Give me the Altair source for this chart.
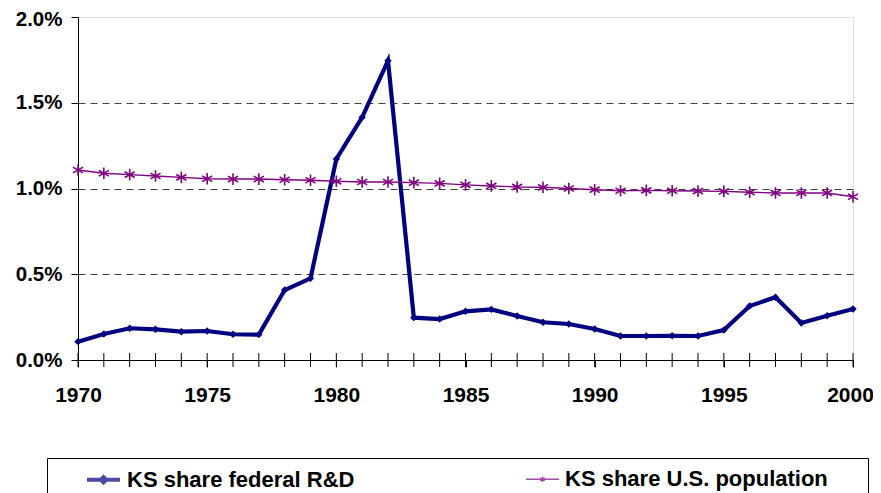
import altair as alt
import pandas as pd

years = list(range(1970, 2001))
rd_share = [0.107, 0.152, 0.185, 0.179, 0.165, 0.169, 0.150, 0.148, 0.408, 0.476,
            1.172, 1.415, 1.745, 0.247, 0.239, 0.284, 0.295, 0.257, 0.220, 0.210,
            0.181, 0.140, 0.140, 0.141, 0.140, 0.175, 0.315, 0.366, 0.216, 0.258, 0.297]
pop_share = [1.108, 1.089, 1.081, 1.073, 1.065, 1.057, 1.055, 1.055, 1.051, 1.048,
             1.042, 1.038, 1.038, 1.034, 1.030, 1.021, 1.015, 1.009, 1.007, 1.000,
             0.993, 0.987, 0.989, 0.987, 0.985, 0.983, 0.978, 0.974, 0.974, 0.974, 0.952]
series_names = ["KS share federal R&D", "KS share U.S. population"]
series_colors = ["#000080", "#800080"]
y_ticks = [0, 0.5, 1.0, 1.5, 2.0]
x_label_years = [1970, 1975, 1980, 1985, 1990, 1995, 2000]

df = pd.concat([
    pd.DataFrame({"year": years, "value": rd_share, "series": series_names[0]}),
    pd.DataFrame({"year": years, "value": pop_share, "series": series_names[1]}),
])
ticks_df = pd.DataFrame({"year": years})

FONT = "Liberation Sans"
W, H = 775, 343

asterisk = "M0,-1L0,1M-0.87,-0.5L0.87,0.5M-0.87,0.5L0.87,-0.5"
leg_rd = "M-1,0L1,0M0,-0.16L0.16,0L0,0.16L-0.16,0Z"
leg_pop = "M-1,0L1,0M0,-0.16L0,0.16M-0.14,-0.08L0.14,0.08M-0.14,0.08L0.14,-0.08"

legend_kw = dict(
    title="\u00a0", titleOrient="right", titlePadding=37, titleFontSize=10,
    orient="none", legendX=-31, legendY=441, direction="horizontal",
    strokeColor="black", fillColor="white", padding=3, symbolOffset=35,
    columnPadding=135, labelFont=FONT, labelFontWeight="bold", labelFontSize=22,
    labelColor="black", labelOffset=5, symbolSize=1089, labelLimit=400,
)

x_enc = alt.X("year:Q", scale=alt.Scale(domain=[1970, 2000], nice=False, zero=False),
              axis=alt.Axis(title=None, values=x_label_years, format="d",
                            labelOverlap=False,
                            labelOffset={"condition": {"test": "datum.value >= 2000", "value": -3}, "value": 0},
                            tickSize=7, tickColor="black", domainColor="black",
                            labelFont=FONT, labelFontWeight="bold", labelFontSize=21,
                            labelColor="black", labelPadding=17, grid=False, labelFlush=False))
y_enc = alt.Y("value:Q", scale=alt.Scale(domain=[0, 2], nice=False),
              axis=alt.Axis(title=None, values=y_ticks,
                            labelExpr="format(datum.value, '.1f') + '%'",
                            labelOffset={"condition": {"test": "datum.value >= 2", "value": 2}, "value": 0},
                            tickSize=7, tickColor="black", domainColor="black",
                            labelFont=FONT, labelFontWeight="bold", labelFontSize=20.5,
                            labelColor="black", labelPadding=9,
                            grid=True, gridColor="#404040", gridDash=[7, 5], gridWidth=1,
                            gridOpacity={"condition": {"test": "datum.value >= 2 || datum.value <= 0", "value": 0}, "value": 1}))

color_scale = alt.Scale(domain=series_names, range=series_colors)

base = alt.Chart(df)

lines_legend_only = base.mark_line(opacity=0).encode(
    x=x_enc, y=y_enc,
    color=alt.Color("series:N", scale=color_scale, legend=alt.Legend(**legend_kw)),
    strokeWidth=alt.StrokeWidth("series:N", scale=alt.Scale(domain=series_names, range=[4, 1.3]),
                                legend=alt.Legend(**legend_kw)),
)

legend_shapes = base.mark_point(filled=False).encode(
    x=alt.X("year:Q"), y=alt.Y("value:Q"),
    color=alt.Color("series:N", scale=color_scale, legend=alt.Legend(**legend_kw)),
    shape=alt.Shape("series:N", scale=alt.Scale(domain=series_names, range=[leg_rd, leg_pop]),
                    legend=alt.Legend(**legend_kw)),
).transform_filter("datum.year < 0")

rd_line = base.transform_filter(alt.datum.series == series_names[0]).mark_line(
    color=series_colors[0], strokeWidth=4.2).encode(x="year:Q", y="value:Q")
rd_pts = base.transform_filter(alt.datum.series == series_names[0]).mark_point(
    shape="diamond", filled=True, color=series_colors[0], size=55, opacity=1).encode(x="year:Q", y="value:Q")
pop_line = base.transform_filter(alt.datum.series == series_names[1]).mark_line(
    color=series_colors[1], strokeWidth=1.4).encode(x="year:Q", y="value:Q")
pop_pts = base.transform_filter(alt.datum.series == series_names[1]).mark_point(
    shape=asterisk, filled=False, color=series_colors[1], size=135, strokeWidth=1.6, opacity=1).encode(x="year:Q", y="value:Q")

# year ticks crossing the x axis (every year)
year_ticks = alt.Chart(ticks_df).mark_rule(color="black", strokeWidth=1).encode(
    x="year:Q", y=alt.value(H - 7), y2=alt.value(H + 7))

chart = alt.layer(
    lines_legend_only, legend_shapes, year_ticks, rd_line, rd_pts, pop_line, pop_pts
).properties(
    width=W, height=H,
    autosize=alt.AutoSizeParams(type="none"),
    padding={"left": 70, "top": 9, "right": 20, "bottom": 133},
).configure_view(stroke="#808080", strokeWidth=1.5).configure(background="white")

chart.save("out.html", embed_options={"renderer": "svg", "actions": False})
